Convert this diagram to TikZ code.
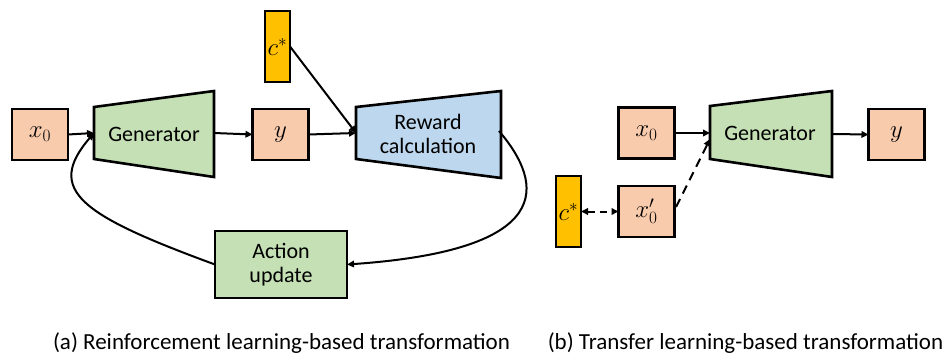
\documentclass[tikz,border=0pt]{standalone}
\usepackage{fontspec}
\setmainfont{Carlito}
\usetikzlibrary{arrows.meta}
\definecolor{salmon}{HTML}{F8CBAD}
\definecolor{lgreen}{HTML}{C5E0B4}
\definecolor{lblue}{HTML}{BDD7EE}
\definecolor{gold}{HTML}{FFC000}
\begin{document}
\begin{tikzpicture}[x=1pt,y=-1pt,
  every node/.style={inner sep=0pt, outer sep=0pt},
  box/.style={draw=black, line width=2.6pt, fill=salmon, minimum width=56pt, minimum height=51pt, font=\fontsize{26}{26}\selectfont},
  cbox/.style={draw=black, line width=2.6pt, fill=gold, minimum width=25pt, minimum height=71pt, font=\fontsize{26}{26}\selectfont},
  trap/.style={draw=black, line width=2.6pt, line join=miter},
  lbl/.style={font=\fontsize{22}{24}\selectfont, align=center},
  conn/.style={line width=2pt, -{Triangle[length=7pt,width=6.5pt]}},
  captext/.style={font=\fontsize{23}{23}\selectfont}
]
\useasboundingbox (0,0) rectangle (947,356);
% ---------- (a) ----------
\node[box] (xa) at (40,134.5) {$x_0$};
\draw[trap, fill=lgreen] (94,107) -- (214,91) -- (214,177) -- (94,159) -- cycle;
\node[lbl] (gena) at (154,134) {Generator};
\coordinate (genaW) at (94,133);
\coordinate (genaE) at (214,133);
\node[box] (ya) at (280.5,134.5) {$y$};
\node[cbox] (ca) at (277.5,46.5) {$c^*$};
\draw[trap, fill=lblue] (356,107) -- (501,91) -- (501,178) -- (356,159) -- cycle;
\node[lbl] (rew) at (428,134) {Reward\\calculation};
\coordinate (rewW) at (356,133);
\coordinate (rewE) at (499,131);
\node[draw=black, line width=2.6pt, fill=lgreen, minimum width=132pt, minimum height=67pt, lbl] (act) at (281,264.5) {Action\\update};
\draw[conn] (xa.east) -- (genaW);
\draw[conn] (genaE) -- (ya.west);
\draw[conn] (ya.east) -- (rewW);
\draw[conn] (ca.east) -- (rewW);
\draw[conn] (rewE) .. controls (545,185) and (555,250) .. (act.east);
\draw[conn] (act.west) .. controls (80,215) and (45,190) .. (genaW);
% ---------- (b) ----------
\node[box] (xb) at (646.5,133) {$x_0$};
\draw[trap, fill=lgreen] (710,106) -- (832,91) -- (832,177) -- (710,159) -- cycle;
\node[lbl] (genb) at (770,133) {Generator};
\coordinate (genbW) at (710,133);
\coordinate (genbWd) at (710,139);
\coordinate (genbE) at (832,134);
\node[box] (yb) at (896.5,134.5) {$y$};
\node[cbox] (cb) at (568.5,211.5) {$c^*$};
\node[box] (xpb) at (646.5,211.5) {$x_0'$};
\coordinate (xpbNE) at (676,207);
\draw[conn] (xb.east) -- (genbW);
\draw[conn] (genbE) -- (yb.west);
\draw[conn, {Triangle[length=7pt,width=6.5pt]}-{Triangle[length=7pt,width=6.5pt]}, dash pattern=on 7pt off 5pt] (cb.east) -- (xpb.west);
\draw[conn, dash pattern=on 9pt off 6pt] (xpbNE) -- (genbWd);
% captions
\node[captext] (capa) at (281.5,343) {(a) Reinforcement learning-based transformation};
\node[captext] (capb) at (745.5,343) {(b) Transfer learning-based transformation};
\end{tikzpicture}
\end{document}
